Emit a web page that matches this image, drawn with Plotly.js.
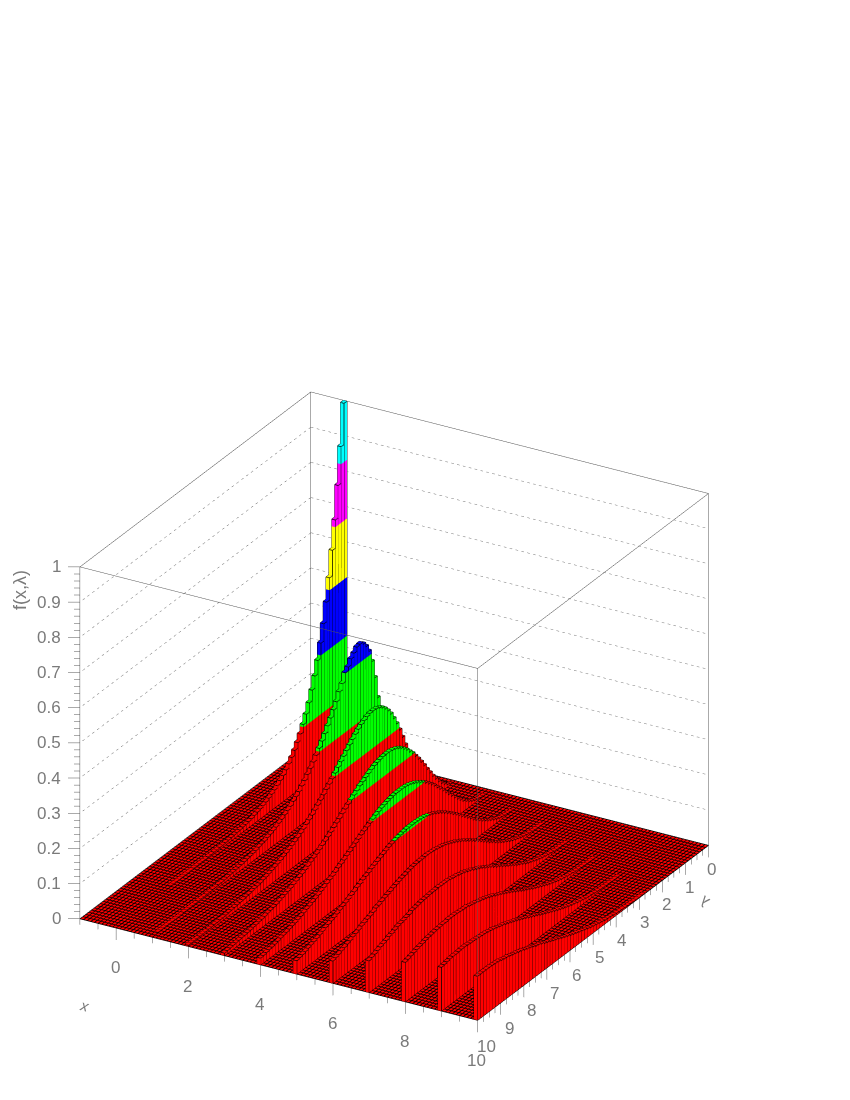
<!DOCTYPE html>
<html><head><meta charset="utf-8">
<script src="https://cdn.plot.ly/plotly-3.0.0.min.js"></script>
<style>html,body{margin:0;padding:0;background:#fff}#g{width:850px;height:1100px}</style></head>
<body><div id="g"></div>
<script>
const ridgeX=[0,1,2,3,4,5,6,7,8,9,10];
const xBinWidth=0.1, lambdaBinWidth=0.125;
const ridge0=[1,.883,.779,.687,.607,.535,.472,.417,.368,.325,.287,.253,.223,.197,.174,.153,.135,.119,.105,.093,.082,.072,.064,.056,.050,.044,.039,.034,.030,.027,.024,.021,.018,.016,.014,.013,.011,.010,.009,.008,.007,.006,.005,.005,.004,.004,.003,.003,.002,.002,.002,.002,.002,.001,.001,.001,.001,.001,.001,.001,.001,0,0,0,0,0,0,0,0,0,0,0,0,0,0,0,0,0,0,0];
const ridge1=[.110,.195,.258,.310,.345,.365,.378,.385,.383,.372,.362,.345,.335,.310,.293,.271,.254,.237,.221,.205,.190,.176,.162,.149,.137,.126,.115,.106,.096,.088,.081,.073,.067,.061,.055,.050,.045,.041,.037,.034,.030,.028,.025,.022,.020,.018,.017,.015,.013,.012,.011,.010,.009,.008,.007,.006,.006,.005,.005,.004,.004,.003,.003,.003,.002,.002,.002,.002,.002,.001,.001,.001,.001,.001,.001,.001,.001,.001,0,0];
const ridge2=[.007,.024,.048,.076,.105,.133,.160,.184,.205,.224,.239,.251,.260,.266,.270,.271,.270,.267,.262,.257,.250,.242,.233,.224,.214,.204,.195,.185,.175,.165,.156,.147,.138,.129,.121,.113,.105,.098,.091,.084,.078,.072,.067,.062,.057,.053,.049,.045,.041,.038,.035,.032,.029,.027,.024,.022,.021,.019,.017,.016,.014,.013,.012,.011,.010,.009,.008,.007,.007,.006,.006,.005,.005,.004,.004,.004,.003,.003,.003,.003];
const ridge3=[0,.002,.006,.013,.022,.033,.047,.061,.077,.093,.110,.126,.141,.155,.169,.180,.191,.200,.208,.214,.219,.222,.224,.224,.223,.221,.219,.216,.211,.206,.201,.195,.190,.182,.176,.169,.162,.155,.148,.140,.134,.127,.120,.113,.107,.101,.095,.089,.084,.079,.073,.069,.064,.060,.056,.052,.048,.045,.042,.039,.036,.033,.031,.029,.027,.024,.022,.021,.019,.018,.016,.015,.014,.013,.012,.011,.010,.009,.008,.007];
const ridge4=[0,0,.001,.002,.003,.006,.010,.015,.022,.029,.038,.047,.057,.068,.079,.090,.102,.113,.123,.134,.144,.152,.161,.168,.174,.180,.185,.189,.192,.194,.195,.195,.195,.194,.192,.190,.187,.184,.180,.176,.171,.166,.161,.156,.151,.145,.140,.134,.128,.123,.117,.112,.107,.101,.096,.092,.087,.082,.078,.073,.069,.065,.061,.058,.054,.050,.047,.044,.042,.039,.036,.034,.032,.029,.027,.025,.024,.022,.020,.019];
const ridge5=[0,0,0,0,0,.001,.002,.003,.005,.007,.010,.014,.019,.024,.030,.036,.043,.051,.058,.067,.075,.084,.092,.101,.109,.117,.125,.132,.139,.145,.151,.156,.161,.165,.168,.171,.173,.174,.175,.175,.175,.175,.173,.171,.169,.167,.164,.161,.157,.153,.149,.145,.141,.137,.132,.128,.124,.119,.115,.109,.105,.100,.096,.092,.088,.083,.079,.076,.072,.069,.065,.061,.057,.054,.051,.048,.045,.042,.040,.038];
const ridge6=[0,0,0,0,0,0,0,.001,.001,.002,.002,.004,.005,.007,.009,.012,.015,.019,.023,.028,.033,.038,.044,.050,.057,.063,.070,.077,.084,.091,.098,.104,.111,.117,.123,.128,.133,.138,.142,.146,.150,.153,.155,.157,.159,.160,.161,.161,.160,.160,.159,.158,.156,.154,.151,.149,.146,.143,.140,.136,.133,.130,.126,.122,.120,.114,.110,.107,.103,.100,.095,.091,.088,.083,.080,.076,.073,.069,.066,.063];
const ridge7=[0,0,0,0,0,0,0,0,0,0,0,.001,.001,.002,.002,.003,.005,.006,.008,.010,.012,.015,.018,.022,.025,.029,.034,.039,.043,.049,.054,.060,.065,.071,.077,.082,.088,.094,.099,.104,.110,.115,.119,.123,.128,.131,.135,.138,.140,.143,.144,.146,.148,.148,.148,.149,.148,.148,.147,.146,.145,.144,.142,.140,.139,.134,.132,.129,.127,.125,.121,.117,.115,.110,.107,.104,.100,.096,.093,.090];
const ridge8=[0,0,0,0,0,0,0,0,0,0,0,0,0,0,.001,.001,.001,.002,.002,.003,.004,.005,.007,.008,.010,.012,.014,.017,.020,.023,.026,.030,.034,.038,.042,.046,.051,.056,.060,.065,.070,.075,.080,.085,.090,.094,.099,.103,.107,.112,.115,.119,.122,.125,.127,.130,.132,.134,.137,.137,.138,.139,.140,.140,.140,.138,.138,.137,.136,.135,.133,.132,.130,.127,.125,.123,.120,.117,.114,.112];
const ridge9=[0,0,0,0,0,0,0,0,0,0,0,0,0,0,0,0,0,0,.001,.001,.001,.002,.002,.003,.003,.004,.005,.007,.008,.009,.011,.013,.015,.018,.020,.023,.026,.029,.033,.036,.040,.044,.048,.052,.056,.060,.065,.069,.073,.077,.082,.086,.090,.094,.098,.101,.105,.108,.112,.114,.117,.120,.122,.124,.126,.127,.128,.129,.130,.130,.131,.132,.132,.131,.130,.130,.129,.127,.125,.124];
const ridge10=[0,0,0,0,0,0,0,0,0,0,0,0,0,0,0,0,0,0,0,0,0,0,.001,.001,.001,.001,.002,.002,.003,.004,.004,.005,.006,.008,.009,.010,.012,.014,.016,.018,.020,.023,.026,.029,.032,.035,.038,.041,.045,.048,.052,.056,.060,.063,.067,.071,.074,.079,.083,.085,.089,.093,.096,.099,.103,.105,.108,.110,.113,.116,.117,.119,.122,.123,.124,.125,.125,.125,.125,.125];
const ridges=[ridge0,ridge1,ridge2,ridge3,ridge4,ridge5,ridge6,ridge7,ridge8,ridge9,ridge10];
const contourLevels=[0,1/6,2/6,3/6,4/6,5/6,1.0001];
const contourColours=['#ff0000','#00ff00','#0000ff','#ffff00','#ff00ff','#00ffff'];
const xMajor=[0,2,4,6,8,10], lambdaMajor=[0,1,2,3,4,5,6,7,8,9,10];
const zMajor=[0,.1,.2,.3,.4,.5,.6,.7,.8,.9,1];
const xMin=-1,xMax=10,lMax=10;

const vx=[],vy=[],vz=[],fi=[],fj=[],fk=[],fc=[];
function quad(p,c){const n=vx.length;p.forEach(q=>{vx.push(q[0]);vy.push(-q[1]);vz.push(q[2]);});
  fi.push(n,n);fj.push(n+1,n+2);fk.push(n+2,n+3);fc.push(c,c);}
const lx=[],ly=[],lz=[];
function seg(a,b){lx.push(a[0],b[0],null);ly.push(-a[1],-b[1],null);lz.push(a[2],b[2],null);}
const eps=0.0012;
// floor
quad([[xMin,0,-eps],[xMax,0,-eps],[xMax,lMax,-eps],[xMin,lMax,-eps]],contourColours[0]);
for(let k=0;k<=110;k++){const x=xMin+k*xBinWidth;seg([x,0,0],[x,lMax,0]);}
for(let k=0;k<=80;k++){const l=k*lambdaBinWidth;seg([xMin,l,0],[xMax,l,0]);}
ridges.forEach((vals,r)=>{
  const x1=ridgeX[r],x0=x1-xBinWidth;
  vals.forEach((v,i)=>{
    if(!(v>0))return;
    const l0=i*lambdaBinWidth,l1=l0+lambdaBinWidth;
    let band=0;
    for(let b=0;b<6;b++){
      const lo=contourLevels[b],hi=Math.min(contourLevels[b+1],v);
      if(hi<=lo)continue;
      band=b;
      quad([[x1,l0,lo],[x1,l1,lo],[x1,l1,hi],[x1,l0,hi]],contourColours[b]);
      quad([[x0,l1,lo],[x1,l1,lo],[x1,l1,hi],[x0,l1,hi]],contourColours[b]);
      quad([[x0,l0,lo],[x0,l1,lo],[x0,l1,hi],[x0,l0,hi]],contourColours[b]);
      quad([[x0,l0,lo],[x1,l0,lo],[x1,l0,hi],[x0,l0,hi]],contourColours[b]);
    }
    quad([[x0,l0,v],[x1,l0,v],[x1,l1,v],[x0,l1,v]],contourColours[band]);
    seg([x0,l0,v],[x1,l0,v]);seg([x1,l0,v],[x1,l1,v]);seg([x1,l1,v],[x0,l1,v]);seg([x0,l1,v],[x0,l0,v]);
    seg([x1,l0,v],[x1,l0,0]);seg([x1,l1,v],[x1,l1,0]);seg([x0,l1,v],[x0,l1,0]);
  });
});
const bars={type:'mesh3d',x:vx,y:vy,z:vz,i:fi,j:fj,k:fk,facecolor:fc,flatshading:true,hoverinfo:'skip',
  lighting:{ambient:1,diffuse:0,specular:0,fresnel:0,roughness:1},showscale:false};
const edges={type:'scatter3d',mode:'lines',x:lx,y:ly,z:lz,line:{color:'#000',width:1.5},hoverinfo:'skip',showlegend:false,connectgaps:false};

// frame, grid, ticks
function lineTrace(segs,color,width){const X=[],Y=[],Z=[];segs.forEach(s=>{X.push(s[0][0],s[1][0],null);Y.push(-s[0][1],-s[1][1],null);Z.push(s[0][2],s[1][2],null);});
  return {type:'scatter3d',mode:'lines',x:X,y:Y,z:Z,line:{color:color,width:width||1},hoverinfo:'skip',showlegend:false};}
const boxSegs=[
 [[xMin,lMax,1],[xMin,0,1]],[[xMin,0,1],[xMax,0,1]],[[xMax,0,1],[xMax,lMax,1]],[[xMax,lMax,1],[xMin,lMax,1]],
 [[xMin,0,0],[xMin,0,1]],[[xMax,0,0],[xMax,0,1]],[[xMax,lMax,0],[xMax,lMax,1]],[[xMin,lMax,0],[xMin,lMax,1]],
 [[xMin,0,0],[xMax,0,0]],[[xMin,0,0],[xMin,lMax,0]]];
// dotted grid on the two back walls: short dashes
const gridSegs=[];
zMajor.slice(1,-1).forEach(z=>{
  const nL=48,nX=68;
  for(let k=0;k<nL;k++){const a=k/nL*lMax,b=(k+.45)/nL*lMax;gridSegs.push([[xMin,a,z],[xMin,b,z]]);}
  for(let k=0;k<nX;k++){const a=xMin+k/nX*(xMax-xMin),b=xMin+(k+.45)/nX*(xMax-xMin);gridSegs.push([[a,0,z],[b,0,z]]);}
});
const tickSegs=[];const tZ=0.034,tX=0.248,tL=0.131;
for(let k=0;k<=22;k++){const x=xMin+k*0.5,maj=xMajor.includes(x);tickSegs.push([[x,lMax,0],[x,lMax,maj?-tZ:-tZ/2]]);}
for(let k=0;k<=40;k++){const l=k*0.25,maj=lambdaMajor.includes(l);tickSegs.push([[xMax,l,0],[xMax,l,maj?-tZ:-tZ/2]]);}
for(let k=0;k<=50;k++){const z=k*0.02,maj=k%5==0,f=maj?1:.5;tickSegs.push([[xMin,lMax,z],[xMin-tX*f,lMax+tL*f,z]]);}

const txt={family:'Liberation Sans, Arial, sans-serif',size:17,color:'#7a7a7a'};
const ann=[];
xMajor.forEach(x=>ann.push({x:x,y:-lMax,z:0,text:String(x),showarrow:false,font:txt,xanchor:'center',yanchor:'middle',xshift:-1,yshift:-40}));
lambdaMajor.forEach(l=>ann.push({x:xMax,y:-l,z:0,text:String(l),showarrow:false,font:txt,xanchor:'center',yanchor:'middle',xshift:3+0.6*l,yshift:-24-0.2*l}));
zMajor.forEach(z=>ann.push({x:xMin,y:-lMax,z:z,text:String(z),showarrow:false,font:txt,xanchor:'right',yanchor:'middle',xshift:-17,yshift:0}));

// orthographic camera: the scale of the picture is set by the aspect ratio
const fit=1/1.196;
const n=[.451,-.777,.440],c=[-.002*fit-.0016,.172*fit-.0009,.319*fit],d=1.5;
const layout={width:850,height:1100,margin:{l:0,r:0,t:0,b:0},paper_bgcolor:'#fff',showlegend:false,
 scene:{domain:{x:[0,1],y:[0,1]},
  xaxis:{visible:false,range:[xMin-0.3,xMax+0.02],title:{text:'x'}},
  yaxis:{visible:false,range:[-lMax-0.2,0.02],title:{text:'λ'}},
  zaxis:{visible:false,range:[-0.036,1.004],title:{text:'f(x,λ)'}},
  aspectmode:'manual',aspectratio:{x:fit*11.32/11,y:fit*10.22/10,z:fit*1.04*.852},
  camera:{projection:{type:'orthographic'},up:{x:0,y:0,z:1},center:{x:c[0],y:c[1],z:c[2]},eye:{x:c[0]+n[0]*d,y:c[1]+n[1]*d,z:c[2]+n[2]*d}},
  annotations:ann},
 annotations:[
  {xref:'paper',yref:'paper',x:8/850,y:1-590/1100,text:'f(x,λ)',showarrow:false,font:{family:txt.family,size:18,color:'#7a7a7a'},textangle:-90},
  {xref:'paper',yref:'paper',x:76/850,y:1-1017/1100,text:'<i>x</i>',showarrow:false,font:{family:txt.family,size:15,color:'#7a7a7a'},textangle:14},
  {xref:'paper',yref:'paper',x:715/850,y:1-914/1100,text:'λ',showarrow:false,font:{family:txt.family,size:15,color:'#7a7a7a'},textangle:-142}
 ]};
Plotly.newPlot('g',[bars,edges,lineTrace(gridSegs,'#777'),lineTrace(boxSegs,'#555'),lineTrace(tickSegs,'#555')],layout,{displayModeBar:false});
</script></body></html>
